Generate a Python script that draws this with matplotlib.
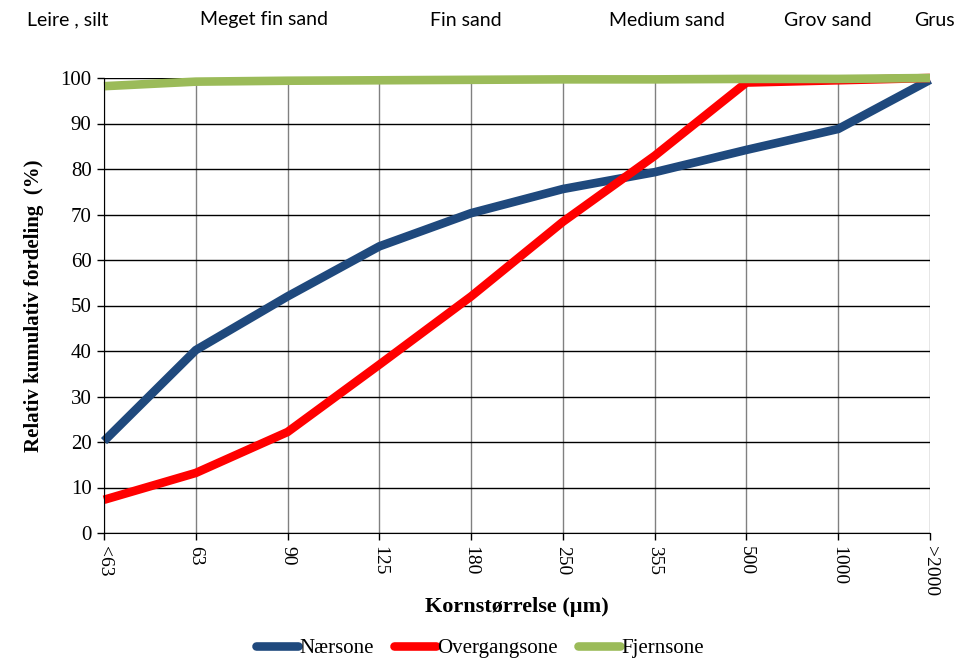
import matplotlib.pyplot as plt
import numpy as np

categories = ["<63", "63", "90", "125", "180", "250", "355", "500", "1000", ">2000"]
naersone = [20.2, 40.2, 52, 63, 70.3, 75.6, 79.3, 84.2, 88.8, 99.6]
overgangsone = [7.3, 13.2, 22.2, 37, 52, 68.4, 82.9, 99, 99.5, 100]
fjernsone = [98.2, 99.2, 99.4, 99.5, 99.6, 99.7, 99.7, 99.8, 99.8, 100]

zones = ["Leire , silt", "Meget fin sand", "Fin sand", "Medium sand", "Grov sand", "Grus"]
zone_x = [68, 264, 466, 667, 828, 934]

serif = ["Liberation Serif", "DejaVu Serif"]

fig = plt.figure(figsize=(9.55, 6.59), dpi=100)
ax = fig.add_axes([104 / 955, 1 - 533 / 659, 826 / 955, 455 / 659])

x = np.arange(len(categories))
ax.plot(x, naersone, color="#1F497D", lw=6.2, solid_capstyle="butt", label="Nærsone", clip_on=False)
ax.plot(x, overgangsone, color="#FF0000", lw=6.2, solid_capstyle="butt", label="Overgangsone", clip_on=False)
ax.plot(x, fjernsone, color="#9BBB59", lw=6.2, solid_capstyle="butt", label="Fjernsone", clip_on=False)

ax.set_xlim(0, len(categories) - 1)
ax.set_ylim(0, 100)
ax.set_yticks(range(0, 101, 10))
ax.set_xticks(x)
ax.set_xticklabels(categories, rotation=270, fontfamily=serif, fontsize=14)
for lab in ax.get_yticklabels():
    lab.set_fontfamily(serif)
    lab.set_fontsize(15)

ax.grid(axis="y", color="black", lw=1)
ax.grid(axis="x", color="#808080", lw=1)
ax.set_axisbelow(True)
for s in ["top", "right"]:
    ax.spines[s].set_visible(False)
ax.tick_params(axis="both", length=5, width=1, direction="out", pad=4)

ax.set_ylabel("Relativ kumulativ fordeling  (%)", fontfamily=serif, fontweight="bold", fontsize=15, labelpad=12)
ax.set_xlabel("Kornstørrelse (µm)", fontfamily=serif, fontweight="bold", fontsize=16, labelpad=1)

for name, zx in zip(zones, zone_x):
    fig.text(zx / 955, 1 - 20 / 659, name, ha="center", va="center", fontsize=14, fontfamily="Lato")

leg = fig.legend(loc="center", bbox_to_anchor=(480 / 955, 1 - 648 / 659), ncol=3, frameon=False,
                 prop={"family": serif, "size": 15}, handlelength=2.0, columnspacing=1.0, handletextpad=0.05)
for h in leg.get_lines():
    h.set_solid_capstyle("round")

fig.savefig("out.png", dpi=100)
